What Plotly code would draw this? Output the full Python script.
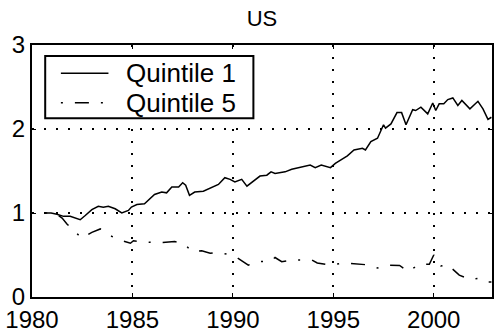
import plotly.graph_objects as go

title_text = "US"
series_names = ["Quintile 1", "Quintile 5"]

q1_years = [1980.66, 1980.95, 1981.24, 1981.57, 1981.9, 1982.15, 1982.4, 1982.65, 1982.98, 1983.3,
            1983.55, 1983.8, 1984.14, 1984.47, 1984.8, 1984.95, 1985.22, 1985.6, 1985.85, 1986.1,
            1986.46, 1986.7, 1986.96, 1987.3, 1987.5, 1987.65, 1987.84, 1988.1, 1988.53, 1988.95,
            1989.28, 1989.6, 1989.86, 1990.1, 1990.44, 1990.7, 1991.0, 1991.35, 1991.69, 1991.9,
            1992.1, 1992.6, 1992.93, 1993.35, 1993.85, 1994.1, 1994.4, 1994.86, 1995.1, 1995.36,
            1995.7, 1996.03, 1996.45, 1996.6, 1996.87, 1997.2, 1997.5, 1997.6, 1997.87, 1998.17,
            1998.4, 1998.62, 1998.95, 1999.1, 1999.36, 1999.7, 1999.95, 2000.1, 2000.27, 2000.5,
            2000.7, 2000.95, 2001.2, 2001.4, 2001.8, 2002.2, 2002.45, 2002.7, 2002.87]
q1_values = [1.00, 1.00, 0.985, 0.96, 0.96, 0.94, 0.92, 0.97, 1.04, 1.08,
             1.07, 1.08, 1.05, 1.00, 1.03, 1.07, 1.10, 1.11, 1.16, 1.22,
             1.25, 1.24, 1.31, 1.31, 1.36, 1.33, 1.21, 1.25, 1.26, 1.30,
             1.34, 1.42, 1.40, 1.37, 1.40, 1.32, 1.38, 1.44, 1.45, 1.49,
             1.47, 1.49, 1.52, 1.54, 1.57, 1.54, 1.57, 1.54, 1.59, 1.63,
             1.68, 1.75, 1.77, 1.75, 1.85, 1.89, 2.05, 2.01, 2.06, 2.195,
             2.195, 2.05, 2.23, 2.22, 2.26, 2.18, 2.31, 2.22, 2.30, 2.30,
             2.35, 2.37, 2.28, 2.34, 2.24, 2.33, 2.24, 2.115, 2.14]

q5_years = [1980.66, 1980.95, 1981.24, 1981.5, 1981.74, 1982.15, 1982.48, 1982.98, 1983.4, 1983.9,
            1984.4, 1984.9, 1985.05, 1985.38, 1985.96, 1986.5, 1987.1, 1987.6, 1987.96, 1988.45,
            1988.87, 1989.2, 1989.7, 1990.19, 1990.52, 1990.77, 1991.27, 1991.85, 1992.1, 1992.43,
            1993.0, 1993.6, 1993.93, 1994.2, 1994.86, 1995.5, 1996.1, 1996.6, 1997.2, 1997.7,
            1998.3, 1998.73, 1999.28, 1999.78, 2000.0, 2000.27, 2000.36, 2000.7, 2001.0, 2001.27,
            2001.8, 2002.2, 2002.55, 2002.87]
q5_values = [1.00, 1.00, 0.985, 0.94, 0.87, 0.77, 0.70, 0.77, 0.81, 0.73,
             0.675, 0.64, 0.67, 0.66, 0.65, 0.65, 0.66, 0.63, 0.54, 0.55,
             0.52, 0.53, 0.51, 0.47, 0.42, 0.38, 0.425, 0.42, 0.47, 0.42,
             0.44, 0.445, 0.44, 0.405, 0.38, 0.405, 0.39, 0.385, 0.345, 0.38,
             0.375, 0.305, 0.39, 0.39, 0.50, 0.40, 0.37, 0.385, 0.32, 0.26,
             0.21, 0.22, 0.18, 0.18]

x_ticks = [1980, 1985, 1990, 1995, 2000]
y_ticks = [0, 1, 2, 3]

FONT = "Liberation Sans, Arial, sans-serif"
Q1_STYLE = dict(color="black", width=1.5)
Q5_STYLE = dict(color="black", width=1.5, dash="2px,12px,14px,12px")

fig = go.Figure()
fig.add_trace(go.Scatter(x=q1_years, y=q1_values, mode="lines", name=series_names[0],
                         line=Q1_STYLE, showlegend=False))
fig.add_trace(go.Scatter(x=q5_years, y=q5_values, mode="lines", name=series_names[1],
                         line=Q5_STYLE, showlegend=False))

axis_common = dict(
    showline=True, linecolor="black", linewidth=2, mirror="allticks",
    ticks="inside", ticklen=4, tickwidth=1, tickcolor="black",
    showgrid=True, gridcolor="black", gridwidth=1.5, griddash="2px,10px",
    zeroline=False, automargin=False, ticklabeloverflow="allow",
    tickfont=dict(family=FONT, size=24, color="black"),
)

fig.update_xaxes(range=[1980, 2002.9], tickvals=x_ticks, ticktext=[str(v) for v in x_ticks],
                 **axis_common)
fig.update_yaxes(range=[0, 3], tickvals=y_ticks, ticktext=[str(v) for v in y_ticks], **axis_common)

# Boxed legend drawn in paper coordinates (MATLAB-style)
leg_x0, leg_x1, leg_y0, leg_y1 = 0.0287, 0.4813, 0.709, 0.956
row_y = [0.8877, 0.771]
sample_x0, sample_x1, text_x = 0.0628, 0.1662, 0.1993
shapes = [dict(type="rect", xref="paper", yref="paper", x0=leg_x0, x1=leg_x1, y0=leg_y0, y1=leg_y1,
               line=dict(color="black", width=2), fillcolor="white", layer="above")]
annotations = []
for name, style, ry in zip(series_names, [Q1_STYLE, Q5_STYLE], row_y):
    shapes.append(dict(type="line", xref="paper", yref="paper", x0=sample_x0, x1=sample_x1,
                       y0=ry, y1=ry, line=style, layer="above"))
    annotations.append(dict(text=name, xref="paper", yref="paper", x=text_x, y=ry,
                            xanchor="left", yanchor="middle", showarrow=False,
                            font=dict(family=FONT, size=26, color="black")))

fig.update_layout(
    width=500, height=332,
    margin=dict(l=32, r=8, t=45, b=35),
    paper_bgcolor="white", plot_bgcolor="white",
    title=dict(text=title_text, x=0.5, xref="paper", xanchor="center", y=0.9458, yref="container",
               yanchor="middle", font=dict(family=FONT, size=22, color="black")),
    showlegend=False,
    shapes=shapes,
    annotations=annotations,
)

# Remove the browser's default 8px body margin so the 500x332 figure fills the window.
fig.write_html("out.html", config={"displayModeBar": False},
               post_script="document.body.style.margin='0';")
